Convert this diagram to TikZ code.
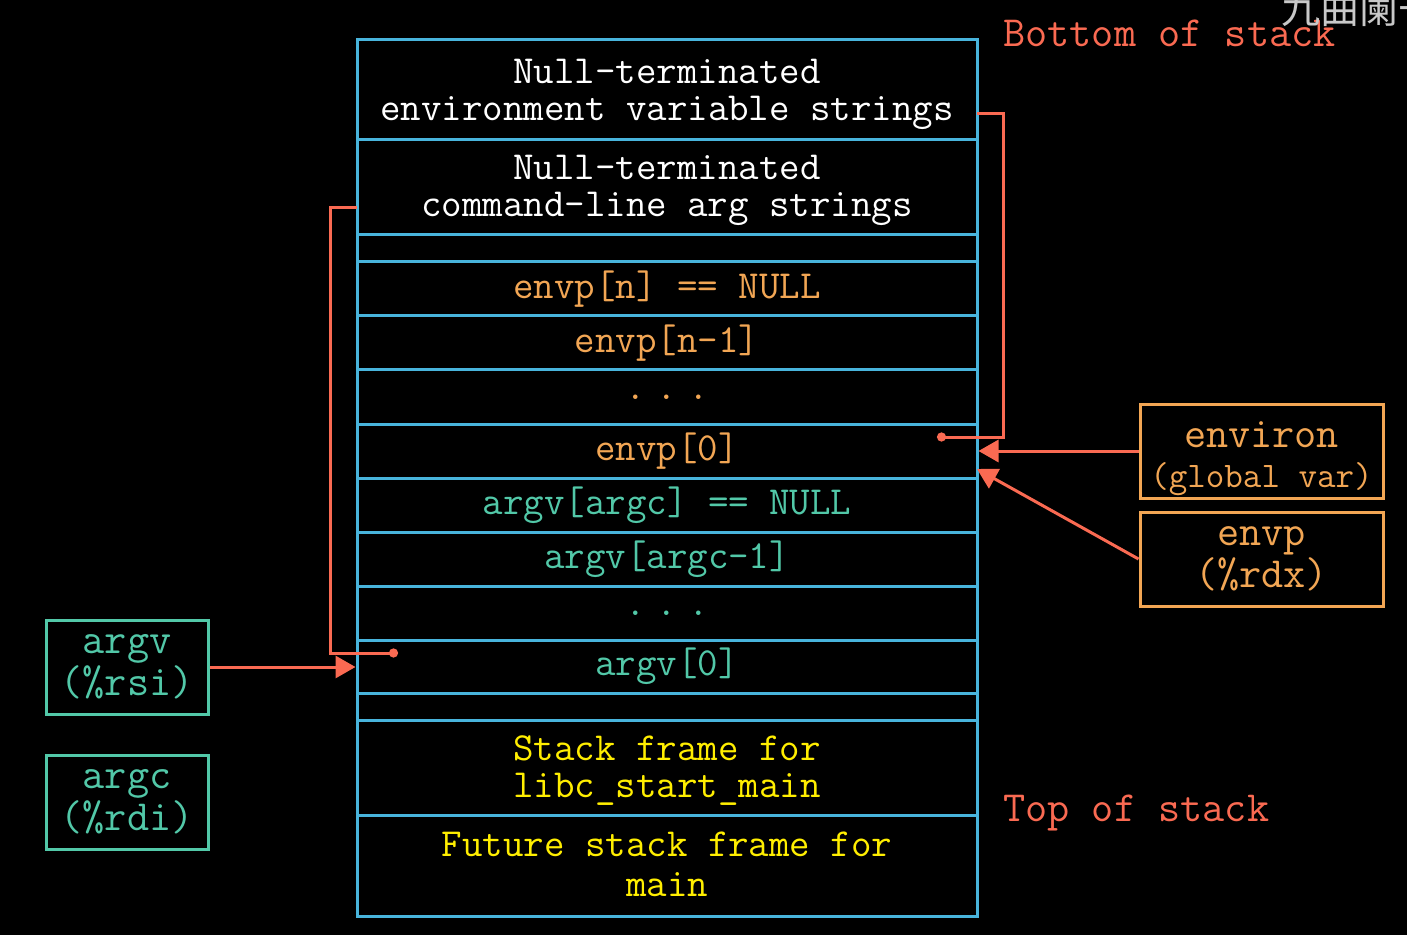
\documentclass[tikz,border=0pt]{standalone}
\usepackage{fontspec}
\newfontfamily\cjk{Noto Sans CJK SC}
\usetikzlibrary{arrows.meta,calc}
\definecolor{stackblue}{RGB}{72,180,220}
\definecolor{redl}{RGB}{250,106,82}
\definecolor{orng}{RGB}{242,166,84}
\definecolor{teal}{RGB}{82,200,168}
\definecolor{yell}{RGB}{255,238,0}
\definecolor{wm}{RGB}{200,200,200}
\tikzset{
  row/.style={draw=stackblue, line width=1.5pt, minimum width=310pt, inner sep=0pt,
    font=\ttfamily\fontsize{19.9}{18.5}\selectfont, align=center},
  rowtext/.style={inner sep=0pt, align=center, font=\ttfamily\fontsize{19.9}{18.5}\selectfont},
  regbox/.style={draw=#1, line width=1.5pt, inner sep=0pt, minimum height=47pt, align=center, text=#1},
  redline/.style={draw=redl, line width=1.5pt},
  redarrow/.style={redline, -{Triangle[length=10pt,width=11pt]}},
  dotstart/.style={{Circle[length=4.5pt]}-},
  sidelbl/.style={font=\ttfamily\fontsize{21.5}{20}\selectfont, text=redl, anchor=west, inner sep=0pt}
}
\begin{document}
\begin{tikzpicture}[x=0.5pt,y=-0.5pt]
\useasboundingbox (0,0) rectangle (1407,935);
\fill[black] (0,0) rectangle (1407,935);

% stack rows
\node[row, minimum height=50pt] (r1) at (667,90) {};
\node[row, minimum height=47.5pt] (r2) at (667,187.5) {};
\node[row, minimum height=13.5pt] (r3) at (667,248.5) {};
\node[row, minimum height=27pt, text=orng] (r4) at (667,289) {envp[n] == NULL};
\node[row, minimum height=27pt, text=orng] (r5) at (667,343) {envp[n-1]};
\node[row, minimum height=27pt, text=orng] (r6) at (667,397) {.\kern5.6pt.\kern5.6pt.};
\node[row, minimum height=27pt, text=orng] (r7) at (667,451) {envp[0]};
\node[row, minimum height=27pt, text=teal] (r8) at (667,505) {argv[argc] == NULL};
\node[row, minimum height=27pt, text=teal] (r9) at (667,559) {argv[argc-1]};
\node[row, minimum height=27pt, text=teal] (r10) at (667,613) {.\kern5.6pt.\kern5.6pt.};
\node[row, minimum height=26.5pt, text=teal] (r11) at (667,666.5) {argv[0]};
\node[row, minimum height=13.5pt] (r12) at (667,706.5) {};
\node[row, minimum height=47.5pt] (r13) at (667,767.5) {};
\node[row, minimum height=50.5pt] (r14) at (667,865.5) {};

% multi-line row texts
\node[rowtext, text=white] (t1) at ($(r1.center)+(0,4)$) {Null-terminated\\environment variable strings};
\node[rowtext, text=white] (t2) at ($(r2.center)+(0,3)$) {Null-terminated\\command-line arg strings};
\node[rowtext, text=yell] (t13) at ($(r13.center)+(0,3)$) {Stack frame for\\libc\_start\_main};
\node[rowtext, text=yell, font=\ttfamily\fontsize{19.9}{20}\selectfont] (t14) at ($(r14.center)+(0,-1)$) {Future stack frame for\\main};

% side labels
\node[sidelbl] (bos) at (1003,33) {Bottom of stack};
\node[sidelbl] (tos) at (1003,813) {Top of stack};

% register boxes
\node[regbox=orng, minimum width=121.5pt] (environ) at (1261.5,451) {};
\node[inner sep=0pt, align=center, text=orng, font=\ttfamily\fontsize{21.5}{20}\selectfont] (environtxt) at ($(environ.center)+(0,8)$)
  {environ\\{\fontsize{18}{20}\selectfont (global var)}};
\node[regbox=orng, minimum width=121.5pt, font=\ttfamily\fontsize{21.5}{19}\selectfont] (envp) at (1261.5,559) {envp\\(\%rdx)};
\node[regbox=teal, minimum width=81pt, font=\ttfamily\fontsize{21.5}{19.5}\selectfont] (argv) at (127,667) {argv\\(\%rsi)};
\node[regbox=teal, minimum width=81pt, font=\ttfamily\fontsize{21.5}{19.5}\selectfont] (argc) at (127,802) {argc\\(\%rdi)};

% connector points
\coordinate (e0) at (937,437);
\coordinate (envbend) at (1003,0);
\coordinate (envstr) at (977,114);
\coordinate (a0) at (398,653);
\coordinate (argbend) at (330,0);
\coordinate (argstr) at (357,208);
\coordinate (envptip) at (977,469);

% pointers
\draw[redline, dotstart] (e0) -- (e0 -| envbend) |- (envstr);
\draw[redline, dotstart] (a0) -- (a0 -| argbend) |- (argstr);
\draw[redarrow] (environ.west) -- (environ.west -| r7.east);
\draw[redarrow] (envp.west) -- (envptip);
\draw[redarrow] (argv.east) -- (argv.east -| r11.west);

% watermark
\begin{scope}
\clip (0,0) rectangle (1407,935);
\node[anchor=west, inner sep=0pt, text=wm, font=\cjk\fontsize{19.5}{20}\selectfont] (wmk) at (1281,9) {九曲阑干};
\end{scope}
\end{tikzpicture}
\end{document}
